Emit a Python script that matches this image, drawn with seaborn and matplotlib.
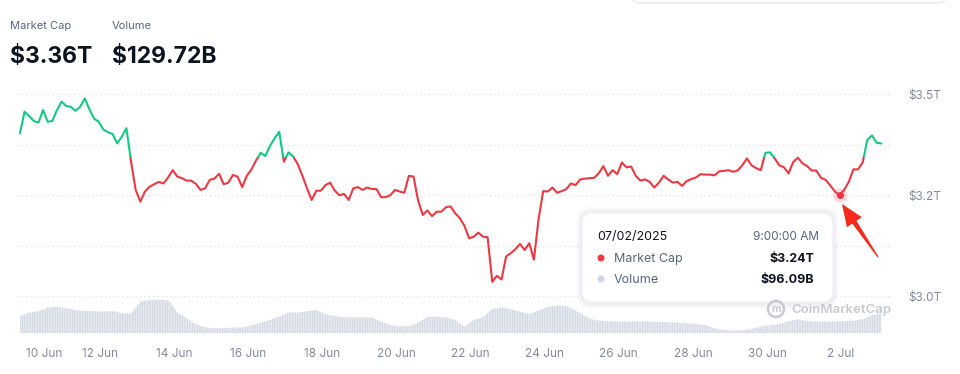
import matplotlib
matplotlib.use("Agg")

import matplotlib.pyplot as plt
import numpy as np
import pandas as pd
import seaborn as sns
from matplotlib.patches import Circle, FancyBboxPatch, Polygon, Rectangle
from matplotlib.transforms import IdentityTransform, blended_transform_factory

# ---- data -----------------------------------------------------------------
START = "2025-06-09 20:00"
BASELINE = 3.345  # line is green above this level, red below (trillion USD)

# total market cap, trillion USD, one reading every 3 hours
market_cap = [
    3.403, 3.457, 3.446, 3.434, 3.430, 3.461, 3.432, 3.434, 3.461, 3.482,
    3.471, 3.469, 3.459, 3.469, 3.490, 3.463, 3.440, 3.432, 3.413, 3.406,
    3.402, 3.378, 3.395, 3.416, 3.333, 3.263, 3.234, 3.259, 3.271, 3.277,
    3.283, 3.279, 3.294, 3.312, 3.296, 3.292, 3.286,
    3.286, 3.278, 3.263, 3.267, 3.288, 3.291, 3.303, 3.277, 3.281, 3.300,
    3.296, 3.270, 3.298, 3.314, 3.336, 3.355, 3.347, 3.372, 3.391, 3.407,
    3.333, 3.356, 3.346, 3.327, 3.298, 3.267, 3.238, 3.261, 3.261, 3.275,
    3.281, 3.261, 3.250, 3.253, 3.238, 3.267, 3.270,
    3.263, 3.269, 3.265, 3.265, 3.245, 3.245, 3.250, 3.263, 3.259, 3.256,
    3.298, 3.296, 3.236, 3.201, 3.212, 3.198, 3.209, 3.209, 3.220, 3.222,
    3.205, 3.193, 3.174, 3.143, 3.147, 3.157, 3.147, 3.146, 3.035, 3.050,
    3.041, 3.098, 3.106, 3.116, 3.129, 3.114, 3.131,
    3.090, 3.190, 3.260, 3.259, 3.269, 3.256, 3.260, 3.265, 3.279, 3.275,
    3.289, 3.291, 3.292, 3.293, 3.304, 3.322, 3.298, 3.312, 3.302, 3.331,
    3.319, 3.321, 3.298, 3.286, 3.289, 3.283, 3.269, 3.281, 3.298, 3.289,
    3.281, 3.283, 3.273, 3.285, 3.290, 3.294,
    3.302, 3.301, 3.301, 3.299, 3.309, 3.310, 3.312, 3.308, 3.311, 3.324,
    3.341, 3.324, 3.317, 3.312, 3.355, 3.356, 3.341, 3.324, 3.319, 3.304,
    3.332, 3.343, 3.329, 3.322, 3.311, 3.311, 3.293, 3.288, 3.274, 3.259,
    3.250, 3.263, 3.283, 3.314, 3.314, 3.331, 3.387, 3.398, 3.380, 3.378,
]

# 24h volume, billion USD, one reading every 6 hours
volume = [
    118.7, 132.5, 137.8, 152.7, 156.8, 149.9, 143.0, 139.0, 137.8, 136.5,
    139.0, 129.6, 129.6, 177.0, 183.5, 185.1, 183.5, 133.7, 109.4, 85.1,
    73.0, 68.9, 70.1, 71.7, 71.7, 79.8, 92.0, 102.5, 116.3, 133.7,
    132.5, 137.8, 143.0, 124.4, 118.7, 113.5, 113.5, 113.5, 113.5, 96.0,
    82.3, 75.8, 78.2, 92.0, 114.7, 116.3, 113.5, 102.5, 75.8, 102.5,
    113.5, 147.1, 153.9, 145.9, 136.5, 126.8, 140.6, 155.2, 160.8, 159.2,
    140.6, 118.7, 102.5, 98.5, 96.0, 96.0, 96.0, 96.0, 96.0, 94.4,
    93.2, 92.0, 89.2, 86.3, 82.3, 68.9, 62.0, 59.6, 60.8, 66.1,
    75.8, 81.1, 86.3, 97.3, 105.4, 98.5, 96.0, 96.0, 96.0, 97.3,
    100.1, 105.4, 121.6, 129.7,
]

HOVER_INDEX = 177  # point under the tooltip

tick_days = pd.date_range("2025-06-10", "2025-07-02", freq="2D")
tick_labels = [f"{d.day} {d:%b}" for d in tick_days]
y_ticks = [3.0, 3.25, 3.5]
y_tick_labels = ["$3.0T", "$3.2T", "$3.5T"]
y_minor_ticks = [3.125, 3.375]

GREEN = "#16c784"
RED = "#ea3943"
DARK = "#0d1421"
GREY = "#58667e"
AXIS_GREY = "#808a9d"

times = pd.date_range(START, periods=len(market_cap), freq="3h")
vol_times = pd.date_range(START, periods=len(volume), freq="6h")
df = pd.DataFrame({"time": times, "market_cap": market_cap})

# ---- figure ---------------------------------------------------------------
sns.set_style("white")
plt.rcParams["font.family"] = ["Inter", "DejaVu Sans"]
plt.rcParams["hatch.linewidth"] = 0.6

W, H = 960, 374
fig = plt.figure(figsize=(W / 100, H / 100), dpi=100)
ax = fig.add_axes([17 / W, 1 - 333 / H, 875 / W, 243 / H])
ax2 = ax.twinx()
ax.set_zorder(ax2.get_zorder() + 1)
ax.patch.set_visible(False)

# volume (bottom band)
ax2.fill_between(vol_times, volume, 0, facecolor="#eef1f6", edgecolor="#cdd3df",
                 hatch="|" * 10, linewidth=0)
ax2.set_ylim(50, 1034)
ax2.set_yticks([])
for s in ax2.spines.values():
    s.set_visible(False)

# market cap line, coloured by baseline
sns.lineplot(data=df, x="time", y="market_cap", ax=ax, color=GREEN, linewidth=1.5)
green_line = ax.lines[-1]
sns.lineplot(data=df, x="time", y="market_cap", ax=ax, color=RED, linewidth=1.5)
red_line = ax.lines[-1]
band = blended_transform_factory(ax.transAxes, ax.transData)
green_line.set_clip_path(Rectangle((0, BASELINE), 1, 10, transform=band))
red_line.set_clip_path(Rectangle((0, BASELINE - 10), 1, 10, transform=band))

# hovered point
hx, hy = times[HOVER_INDEX], market_cap[HOVER_INDEX]
ax.scatter([hx], [hy], s=110, color=RED, alpha=0.18, linewidths=0, zorder=5)
ax.scatter([hx], [hy], s=26, color=RED, linewidths=0, zorder=6)

ax.set_xlim(times[0] - pd.Timedelta(hours=1.9), times[0] + pd.Timedelta(hours=565))
ax.set_ylim(2.9083, 3.5107)
ax.set_xlabel("")
ax.set_ylabel("")

ax.set_xticks(tick_days)
ax.set_xticklabels(tick_labels)
ax.get_xticklabels()[0].set_horizontalalignment("left")
ax.yaxis.tick_right()
ax.set_yticks(y_ticks)
ax.set_yticklabels(y_tick_labels)
ax.set_yticks(y_minor_ticks, minor=True)
ax.tick_params(axis="x", length=0, pad=11, labelsize=8.5, labelcolor=AXIS_GREY)
ax.tick_params(axis="y", which="both", length=0, pad=12, labelsize=8.5,
               labelcolor=AXIS_GREY)
ax.grid(axis="y", which="both", linestyle=(0, (1, 2.5)), color="#d9dde5", linewidth=0.9)
ax.grid(axis="x", visible=False)
for s in ax.spines.values():
    s.set_visible(False)

px = IdentityTransform()

# ---- header ---------------------------------------------------------------
fig.text(10, H - 29, "Market Cap", transform=px, fontsize=8, color=GREY)
fig.text(112, H - 29, "Volume", transform=px, fontsize=8, color=GREY)
fig.text(10, H - 63, "$3.36T", transform=px, fontsize=16.5, fontweight="bold", color=DARK)
fig.text(112, H - 63, "$129.72B", transform=px, fontsize=16.5, fontweight="bold", color=DARK)

# clipped button group at the top right
fig.patches.append(FancyBboxPatch((633, H - 3), 312, 20, boxstyle="round,pad=0,rounding_size=6",
                                  facecolor="white", edgecolor="#e3e6eb", linewidth=1,
                                  transform=px, figure=fig))

# ---- tooltip --------------------------------------------------------------
for k, a in enumerate([0.025, 0.025, 0.03, 0.035]):
    grow = 6 - k * 1.5
    fig.patches.append(FancyBboxPatch((582 - grow, H - 303 - grow), 251 + 2 * grow, 90 + 2 * grow,
                                      boxstyle=f"round,pad=0,rounding_size={10 + grow}",
                                      facecolor="#5a6b8c", edgecolor="none", alpha=a,
                                      transform=px, figure=fig))
fig.patches.append(FancyBboxPatch((582, H - 302), 251, 89, boxstyle="round,pad=0,rounding_size=10",
                                  facecolor="white", edgecolor="#eef0f3", linewidth=0.8,
                                  transform=px, figure=fig))
fig.text(597, H - 240, "07/02/2025", transform=px, fontsize=9, color=DARK)
fig.text(819, H - 240, "9:00:00 AM", transform=px, fontsize=8.5, color=GREY, ha="right")
fig.patches.append(Circle((601, H - 258), 3.5, facecolor=RED, edgecolor="none",
                          transform=px, figure=fig))
fig.text(614, H - 262, "Market Cap", transform=px, fontsize=9, color=GREY)
fig.text(814, H - 262, "$3.24T", transform=px, fontsize=9, color=DARK, ha="right",
         fontweight="bold")
fig.patches.append(Circle((601, H - 279), 3.5, facecolor="#cfd6e4", edgecolor="none",
                          transform=px, figure=fig))
fig.text(614, H - 283, "Volume", transform=px, fontsize=9, color=GREY)
fig.text(814, H - 283, "$96.09B", transform=px, fontsize=9, color=DARK, ha="right",
         fontweight="bold")

# ---- watermark ------------------------------------------------------------
fig.patches.append(Circle((776, H - 309), 8, facecolor="none", edgecolor="#c5cad3",
                          linewidth=1.8, transform=px, figure=fig))
fig.text(776, H - 309, "m", transform=px, fontsize=7.5, fontweight="bold", color="#c5cad3",
         ha="center", va="center")
fig.text(791, H - 313, "CoinMarketCap", transform=px, fontsize=9.5, fontweight="semibold",
         color="#c5cad3")

# ---- red arrow pointing at the hovered point ------------------------------
tail = np.array([878.0, 257.0])
tip = np.array([842.0, 204.0])
u = (tip - tail) / np.linalg.norm(tip - tail)
n = np.array([-u[1], u[0]])
base = tip - u * 22
pts = [tail + n * 0.6, base + n * 2.5, base + n * 9, tip,
       base - n * 9, base - n * 2.5, tail - n * 0.6]
pts = [(p[0], H - p[1]) for p in pts]
fig.patches.append(Polygon(pts, closed=True, facecolor="#f5291c", edgecolor="none",
                           transform=px, figure=fig))

fig.savefig("out.png", dpi=100)
plt.close(fig)
